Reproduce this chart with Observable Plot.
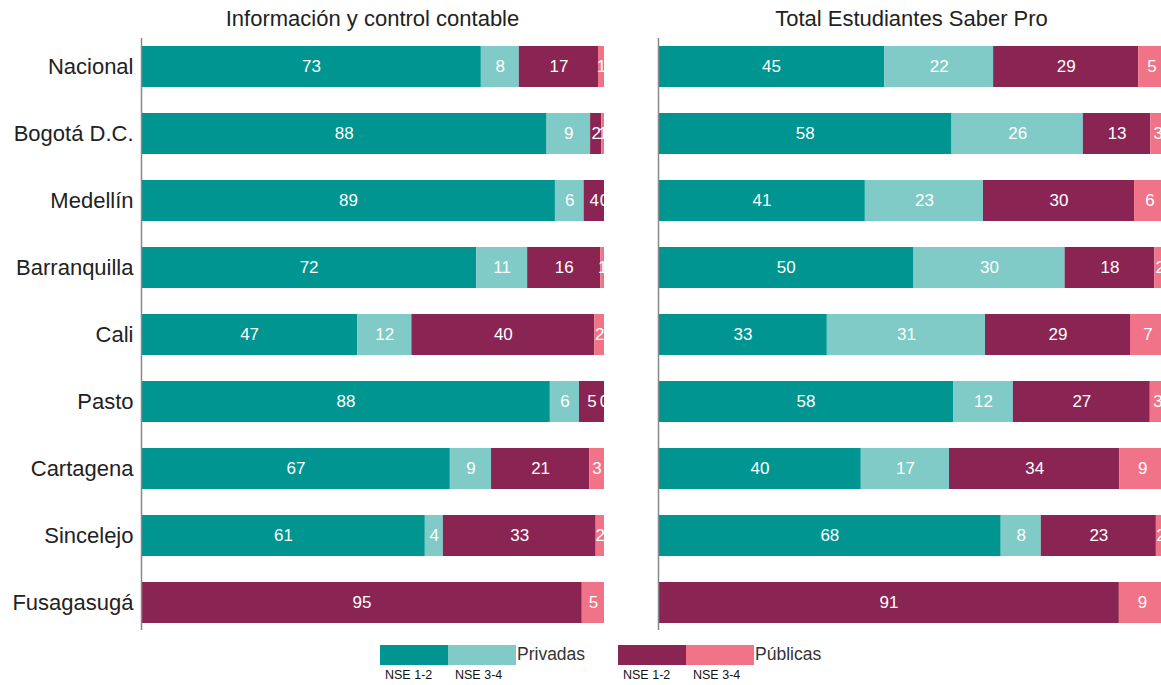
<!DOCTYPE html>
<html>
<head>
<meta charset="utf-8">
<script src="https://cdn.jsdelivr.net/npm/d3@7"></script>
<script src="https://cdn.jsdelivr.net/npm/@observablehq/plot@0.6"></script>
<style>
  html, body { margin: 0; padding: 0; background: #fff; overflow: hidden; }
  #wrap { position: relative; width: 1161px; height: 685px; overflow: hidden; }
  .title { position: absolute; top: 6px; font-family: "Liberation Sans", Arial, sans-serif; font-size: 22px; color: #222; text-align: center; white-space: nowrap; }
  .panel { position: absolute; top: 0; }
  .panel svg { max-width: none !important; }
  .legend { position: absolute; left: 0; top: 0; font-family: "Liberation Sans", Arial, sans-serif; }
  .sw { position: absolute; top: 645px; height: 20px; width: 68px; }
  .lt { position: absolute; top: 644px; font-size: 17.5px; color: #333; white-space: nowrap; }
  .ls { position: absolute; top: 668px; font-size: 12.5px; color: #111; white-space: nowrap; }
</style>
</head>
<body>
<div id="wrap">
  <div class="title" style="left:141px;width:463px;">Información y control contable</div>
  <div class="title" style="left:658px;width:507px;">Total Estudiantes Saber Pro</div>
  <div id="left" class="panel" style="left:0px;width:620px;"></div>
  <div id="right" class="panel" style="left:620px;width:560px;"></div>
  <div id="legend"></div>
</div>
<script>
const cities = ["Nacional","Bogotá D.C.","Medellín","Barranquilla","Cali","Pasto","Cartagena","Sincelejo","Fusagasugá"];
const groups = ["Privadas NSE 1-2","Privadas NSE 3-4","Públicas NSE 1-2","Públicas NSE 3-4"];
const colors = ["#009590","#80cbc8","#8a2553","#f07387"];

// Información y control contable (% por ciudad)
const infoPrivNSE12 = [73.4, 87.6, 89.4, 72.4, 46.7, 88.3, 66.7, 61.3, null];
const infoPrivNSE34 = [ 8.2,  9.4,  6.2, 11.0, 11.7,  6.3,  8.9,  3.9, null];
const infoPubNSE12  = [17.1,  2.4,  4.4, 15.8, 39.5,  5.4, 21.2, 33.0, 95.2];
const infoPubNSE34  = [ 1.3,  0.6,  0.0,  0.8,  2.1,  0.0,  3.2,  1.8,  4.8];

// Total Estudiantes Saber Pro (% por ciudad)
const totPrivNSE12 = [44.6, 57.9, 40.8, 50.4, 33.3, 58.2, 40.0, 67.6, null];
const totPrivNSE34 = [21.5, 25.9, 23.3, 29.8, 31.2, 11.8, 17.4,  7.9, null];
const totPubNSE12  = [28.6, 13.3, 29.8, 17.7, 28.6, 27.0, 33.6, 22.7, 90.9];
const totPubNSE34  = [ 5.3,  2.9,  6.1,  2.1,  6.9,  3.0,  9.0,  1.8,  9.1];

function rows(series) {
  const out = [];
  cities.forEach((c, i) => {
    series.forEach((s, k) => {
      if (s[i] !== null) out.push({city: c, group: groups[k], value: s[i]});
    });
  });
  return out;
}

function panel(data, opts) {
  return Plot.plot({
    width: opts.width,
    height: 640,
    marginTop: 38,
    marginBottom: 10,
    marginLeft: opts.marginLeft,
    marginRight: opts.marginRight,
    style: {fontFamily: "'Liberation Sans', Arial, sans-serif", background: "transparent", maxWidth: "none"},
    x: {domain: [0, 100], axis: null},
    y: {domain: cities, paddingInner: 0.39, paddingOuter: 0.09, label: null,
        axis: opts.yAxis ? "left" : null, tickSize: 0, tickPadding: 8},
    color: {domain: groups, range: colors},
    marks: [
      Plot.barX(data, Plot.stackX({x: "value", y: "city", fill: "group", order: groups, clip: true})),
      Plot.text(data, Plot.stackX({x: "value", y: "city", z: "group", order: groups,
        text: d => String(Math.round(d.value)), fill: "white", fontSize: 17,
        fontFamily: "'Liberation Sans', Arial, sans-serif", clip: true})),
      Plot.ruleX([0], {stroke: "#888", strokeWidth: 1.5})
    ]
  });
}

const left = panel(rows([infoPrivNSE12, infoPrivNSE34, infoPubNSE12, infoPubNSE34]),
  {width: 620, marginLeft: 141, marginRight: 16, yAxis: true});
left.querySelectorAll("g[aria-label='y-axis tick label']").forEach(g => {
  g.setAttribute("font-size", "22"); g.style.fontSize = "22px"; g.setAttribute("fill", "#222");
});
document.getElementById("left").appendChild(left);

const right = panel(rows([totPrivNSE12, totPrivNSE34, totPubNSE12, totPubNSE34]),
  {width: 560, marginLeft: 38, marginRight: 15, yAxis: false});
document.getElementById("right").appendChild(right);

// Legend
const lg = document.getElementById("legend");
lg.className = "legend";
const legendGroups = [
  {name: "Privadas", x: 380, cols: [colors[0], colors[1]]},
  {name: "Públicas", x: 618, cols: [colors[2], colors[3]]}
];
const sub = ["NSE 1-2", "NSE 3-4"];
let html = "";
legendGroups.forEach(g => {
  g.cols.forEach((c, j) => {
    html += `<div class="sw" style="left:${g.x + j*68}px;background:${c};"></div>`;
    html += `<div class="ls" style="left:${g.x + 5 + j*70}px;">${sub[j]}</div>`;
  });
  html += `<div class="lt" style="left:${g.x + 137}px;">${g.name}</div>`;
});
lg.innerHTML = html;
</script>
</body>
</html>
